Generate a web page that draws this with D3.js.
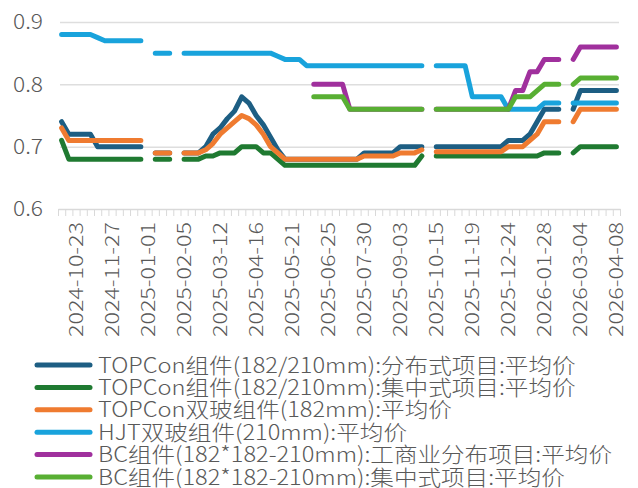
<!DOCTYPE html>
<html>
<head>
<meta charset="utf-8">
<script src="https://cdn.jsdelivr.net/npm/d3@7/dist/d3.min.js"></script>
<style>
  html, body { margin: 0; padding: 0; background: #fff; }
  svg { display: block; }
  text { font-family: "Noto Sans CJK SC", "Noto Sans", sans-serif; font-weight: 300; fill: #595959; }
</style>
</head>
<body>
<svg id="chart" width="638" height="488"></svg>
<script>
// ---------- DATA ----------
const dates = [
  "2024-10-09","2024-10-16","2024-10-23","2024-10-30","2024-11-06","2024-11-13","2024-11-20","2024-11-27",
  "2024-12-04","2024-12-11","2024-12-18","2024-12-25","2025-01-01","2025-01-08","2025-01-15","2025-01-22",
  "2025-01-29","2025-02-05","2025-02-12","2025-02-19","2025-02-26","2025-03-05","2025-03-12","2025-03-19",
  "2025-03-26","2025-04-02","2025-04-09","2025-04-16","2025-04-23","2025-04-30","2025-05-07","2025-05-14",
  "2025-05-21","2025-05-28","2025-06-04","2025-06-11","2025-06-18","2025-06-25","2025-07-02","2025-07-09",
  "2025-07-16","2025-07-23","2025-07-30","2025-08-06","2025-08-13","2025-08-20","2025-08-27","2025-09-03",
  "2025-09-10","2025-09-17","2025-09-24","2025-10-08","2025-10-15","2025-10-22","2025-10-29","2025-11-05",
  "2025-11-12","2025-11-19","2025-11-26","2025-12-03","2025-12-10","2025-12-17","2025-12-24","2025-12-31",
  "2026-01-07","2026-01-14","2026-01-21","2026-01-28","2026-02-04","2026-02-11","2026-02-18","2026-02-25",
  "2026-03-04","2026-03-11","2026-03-18","2026-03-25","2026-04-01","2026-04-08"
];
const tickLabels = [
  "2024-10-23","2024-11-27","2025-01-01","2025-02-05","2025-03-12","2025-04-16","2025-05-21","2025-06-25",
  "2025-07-30","2025-09-03","2025-10-15","2025-11-19","2025-12-24","2026-01-28","2026-03-04","2026-04-08"
];
const yTicks = [0.6, 0.7, 0.8, 0.9];

const topconDist = [
  0.74,0.72,0.72,0.72,0.72,0.70,0.70,0.70,0.70,0.70,0.70,0.70,null,0.69,0.69,0.69,
  null,0.69,0.69,0.69,0.70,0.72,0.73,0.745,0.757,0.78,0.77,0.75,0.735,0.715,0.695,0.68,
  0.68,0.68,0.68,0.68,0.68,0.68,0.68,0.68,0.68,0.68,0.69,0.69,0.69,0.69,0.69,0.70,
  0.70,0.70,0.70,null,0.70,0.70,0.70,0.70,0.70,0.70,0.70,0.70,0.70,0.70,0.71,0.71,
  0.71,0.72,0.74,0.76,0.76,0.76,null,0.76,0.79,0.79,0.79,0.79,0.79,0.79
];
const topconCent = [
  0.71,0.68,0.68,0.68,0.68,0.68,0.68,0.68,0.68,0.68,0.68,0.68,null,0.68,0.68,0.68,
  null,0.68,0.68,0.68,0.685,0.685,0.69,0.69,0.69,0.70,0.70,0.70,0.69,0.69,0.68,0.67,
  0.67,0.67,0.67,0.67,0.67,0.67,0.67,0.67,0.67,0.67,0.67,0.67,0.67,0.67,0.67,0.67,
  0.67,0.67,0.685,null,0.685,0.685,0.685,0.685,0.685,0.685,0.685,0.685,0.685,0.685,0.685,0.685,
  0.685,0.685,0.685,0.69,0.69,0.69,null,0.69,0.70,0.70,0.70,0.70,0.70,0.70
];
const topconBifacial = [
  0.73,0.71,0.71,0.71,0.71,0.71,0.71,0.71,0.71,0.71,0.71,0.71,null,0.69,0.69,0.69,
  null,0.69,0.69,0.69,0.695,0.705,0.72,0.73,0.74,0.75,0.745,0.735,0.72,0.70,0.69,0.68,
  0.68,0.68,0.68,0.68,0.68,0.68,0.68,0.68,0.68,0.68,0.685,0.685,0.685,0.685,0.685,0.69,
  0.69,0.69,0.695,null,0.692,0.692,0.692,0.692,0.692,0.692,0.692,0.692,0.692,0.692,0.70,0.70,
  0.70,0.71,0.72,0.74,0.74,0.74,null,0.74,0.76,0.76,0.76,0.76,0.76,0.76
];
const hjtBifacial = [
  0.88,0.88,0.88,0.88,0.88,0.875,0.87,0.87,0.87,0.87,0.87,0.87,null,0.85,0.85,0.85,
  null,0.85,0.85,0.85,0.85,0.85,0.85,0.85,0.85,0.85,0.85,0.85,0.85,0.85,0.845,0.84,
  0.84,0.84,0.83,0.83,0.83,0.83,0.83,0.83,0.83,0.83,0.83,0.83,0.83,0.83,0.83,0.83,
  0.83,0.83,0.83,null,0.83,0.83,0.83,0.83,0.83,0.78,0.78,0.78,0.78,0.78,0.76,0.76,
  0.76,0.76,0.76,0.77,0.77,0.77,null,0.77,0.77,0.77,0.77,0.77,0.77,0.77
];
const bcDist = [
  null,null,null,null,null,null,null,null,null,null,null,null,null,null,null,null,
  null,null,null,null,null,null,null,null,null,null,null,null,null,null,null,null,
  null,null,null,0.80,0.80,0.80,0.80,0.80,0.76,0.76,0.76,0.76,0.76,0.76,0.76,0.76,
  0.76,0.76,0.76,null,0.76,0.76,0.76,0.76,0.76,0.76,0.76,0.76,0.76,0.76,0.76,0.79,
  0.79,0.82,0.82,0.84,0.84,0.84,null,0.84,0.86,0.86,0.86,0.86,0.86,0.86
];
const bcCent = [
  null,null,null,null,null,null,null,null,null,null,null,null,null,null,null,null,
  null,null,null,null,null,null,null,null,null,null,null,null,null,null,null,null,
  null,null,null,0.78,0.78,0.78,0.78,0.78,0.76,0.76,0.76,0.76,0.76,0.76,0.76,0.76,
  0.76,0.76,0.76,null,0.76,0.76,0.76,0.76,0.76,0.76,0.76,0.76,0.76,0.76,0.76,0.78,
  0.78,0.78,0.79,0.80,0.80,0.80,null,0.80,0.81,0.81,0.81,0.81,0.81,0.81
];

const seriesNames = [
  "TOPCon组件(182/210mm):分布式项目:平均价",
  "TOPCon组件(182/210mm):集中式项目:平均价",
  "TOPCon双玻组件(182mm):平均价",
  "HJT双玻组件(210mm):平均价",
  "BC组件(182*182-210mm):工商业分布项目:平均价",
  "BC组件(182*182-210mm):集中式项目:平均价"
];
const seriesColors = ["#1d5e83", "#1f7a31", "#ef7b30", "#19a3dc", "#a0309d", "#58af33"];
const seriesValues = [topconDist, topconCent, topconBifacial, hjtBifacial, bcDist, bcCent];

// ---------- CHART ----------
const svg = d3.select("#chart");
const plotLeft = 58, plotRight = 620, plotTop = 22, plotBottom = 209;

const x = d3.scaleBand().domain(dates).range([plotLeft, plotRight]).padding(0);
const bw = x.bandwidth();
const y = d3.scaleLinear().domain([0.6, 0.9]).range([plotBottom, plotTop]);

// grid + y labels
const yAxis = d3.axisLeft(y).tickValues(yTicks).tickFormat(d3.format(".1f"))
  .tickSize(-(plotRight - plotLeft - 3)).tickPadding(16);
const gy = svg.append("g").attr("transform", `translate(${plotLeft + 2},0)`).call(yAxis);
gy.select(".domain").remove();
gy.selectAll(".tick line").attr("stroke", "#dedede").attr("stroke-width", 1.5);
gy.selectAll(".tick text").attr("font-size", 21).attr("fill", "#595959").attr("x", -17)
  .attr("textLength", 30).attr("lengthAdjust", "spacingAndGlyphs");
gy.selectAll(".tick").filter(d => d === 0.6).select("line").remove();

// x axis: minor ticks at category boundaries
const xb = d3.scaleLinear().domain([0, dates.length]).range([plotLeft, plotRight]);
const xAxisTicks = d3.axisBottom(xb).tickValues(d3.range(dates.length + 1)).tickFormat("").tickSize(7).tickSizeOuter(0);
const gx = svg.append("g").attr("transform", `translate(0,${plotBottom})`).call(xAxisTicks);
gx.select(".domain").attr("stroke", "#d9d9d9").attr("stroke-width", 1.5);
gx.selectAll(".tick line").attr("stroke", "#d9d9d9").attr("stroke-width", 1);

// x labels
const xAxisLabels = d3.axisBottom(x).tickValues(tickLabels).tickSize(0).tickPadding(0);
const gl = svg.append("g").attr("transform", `translate(0,${plotBottom})`).call(xAxisLabels);
gl.select(".domain").remove();
gl.selectAll(".tick text")
  .attr("font-size", 19)
  .attr("fill", "#595959")
  .attr("text-anchor", "end")
  .attr("transform", "rotate(-90)")
  .attr("x", -13)
  .attr("y", 0)
  .attr("dy", "0.36em")
  .attr("textLength", 115)
  .attr("lengthAdjust", "spacingAndGlyphs");

// lines
const line = d3.line()
  .defined(d => d.v !== null)
  .x(d => x(d.date) + bw / 2)
  .y(d => y(d.v));

seriesValues.forEach((vals, si) => {
  const pts = vals.map((v, i) => ({ date: dates[i], v }));
  svg.append("path")
    .datum(pts)
    .attr("fill", "none")
    .attr("stroke", seriesColors[si])
    .attr("stroke-width", 5)
    .attr("stroke-linecap", "round")
    .attr("stroke-linejoin", "round")
    .attr("d", line);
});

// legend
const legY0 = 365, legStep = 22.4, legTextX = 98, legWidestEnd = 612;
const lg = svg.append("g");
const legTexts = [];
seriesNames.forEach((name, i) => {
  const yy = legY0 + i * legStep;
  lg.append("line")
    .attr("x1", 37).attr("x2", 90).attr("y1", yy).attr("y2", yy)
    .attr("stroke", seriesColors[i]).attr("stroke-width", 5).attr("stroke-linecap", "round");
  legTexts.push(lg.append("text")
    .attr("x", legTextX).attr("y", yy).attr("dy", "0.36em")
    .attr("font-size", 21).attr("fill", "#595959")
    .text(name));
});
// stretch legend text horizontally to the reference's wide face
const natural = legTexts.map(t => t.node().getComputedTextLength());
const factor = (legWidestEnd - legTextX) / d3.max(natural);
legTexts.forEach((t, i) => t.attr("textLength", natural[i] * factor).attr("lengthAdjust", "spacingAndGlyphs"));
</script>
</body>
</html>
